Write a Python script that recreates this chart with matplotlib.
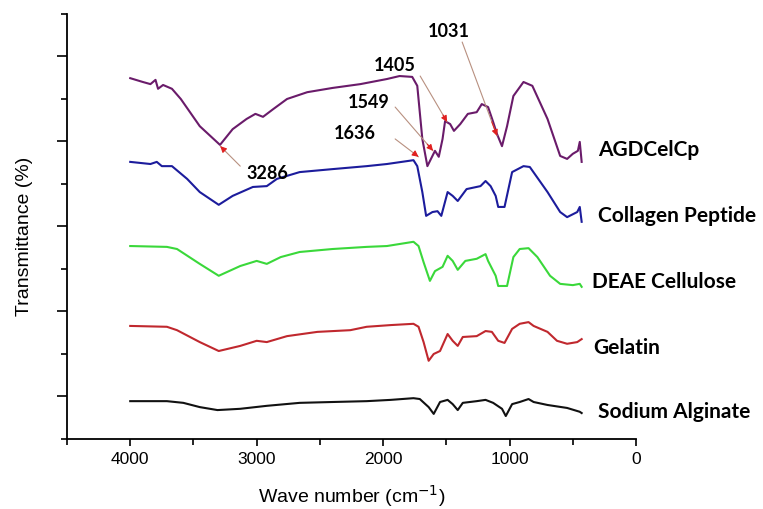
"""FTIR spectra of AGDCelCp and its components."""

import matplotlib
matplotlib.use('Agg')
import matplotlib.pyplot as plt
from matplotlib.ticker import MultipleLocator, NullFormatter

# wave numbers (cm-1) and transmittance (stacked, arbitrary offset) per sample
agd_x = [4000, 3900, 3840, 3800, 3780, 3740, 3670, 3600, 3450, 3290, 3190,
         3080, 3010, 2950, 2870, 2760, 2600, 2400, 2180, 1970, 1870, 1770,
         1730, 1690, 1650, 1610, 1590, 1560, 1530, 1510, 1470, 1440, 1390,
         1330, 1260, 1220, 1170, 1130, 1100, 1060, 1020, 970, 890, 820, 700,
         600, 545, 500, 460, 445, 430]
agd_y = [84.9, 84.0, 83.5, 84.5, 82.4, 83.3, 82.4, 80.0, 73.6, 69.2, 72.9,
         75.3, 76.5, 75.8, 77.6, 80.0, 81.6, 82.6, 83.5, 84.7, 85.4, 85.2,
         83.1, 70.6, 64.2, 66.6, 67.8, 66.4, 70.6, 74.8, 74.1, 72.5, 74.1,
         76.5, 76.9, 78.8, 78.1, 74.6, 71.8, 68.9, 73.6, 80.7, 84.0, 83.1,
         75.3, 66.6, 65.9, 67.1, 67.8, 69.9, 65.2]

col_x = [4000, 3840, 3790, 3750, 3670, 3550, 3450, 3300, 3190, 3030, 2920,
         2840, 2660, 2400, 2130, 1970, 1760, 1730, 1690, 1660, 1610, 1570,
         1540, 1490, 1450, 1410, 1340, 1230, 1190, 1150, 1110, 1090, 1040,
         980, 890, 840, 700, 600, 545, 465, 445, 430]
col_y = [65.2, 64.7, 65.2, 64.2, 64.2, 61.2, 58.1, 55.1, 57.2, 59.3, 59.5,
         61.2, 62.8, 63.5, 64.2, 64.7, 65.6, 64.2, 58.1, 52.5, 53.4, 53.6,
         52.5, 58.1, 57.2, 56.0, 58.8, 59.5, 60.7, 59.5, 57.2, 54.6, 54.6,
         62.8, 64.2, 64.0, 58.1, 53.4, 52.2, 53.4, 54.6, 51.1]

deae_x = [4000, 3710, 3630, 3450, 3300, 3130, 3000, 2920, 2810, 2660, 2400,
          2130, 1970, 1760, 1720, 1680, 1630, 1590, 1530, 1490, 1450, 1410,
          1350, 1260, 1190, 1170, 1110, 1090, 1020, 970, 920, 850, 780, 680,
          600, 500, 445, 430]
deae_y = [45.4, 45.2, 44.7, 41.2, 38.4, 40.7, 41.9, 41.2, 42.8, 44.0, 44.7,
          45.2, 45.4, 46.4, 45.4, 41.6, 37.2, 39.5, 40.5, 43.1, 41.9, 39.8,
          41.9, 42.4, 43.5, 41.9, 38.4, 36.0, 36.0, 42.8, 44.7, 44.9, 42.8,
          38.4, 36.5, 36.2, 36.5, 35.8]

gel_x = [4000, 3710, 3630, 3450, 3300, 3130, 3000, 2920, 2760, 2520, 2260,
         2130, 1940, 1760, 1720, 1680, 1640, 1600, 1550, 1490, 1450, 1410,
         1370, 1260, 1190, 1140, 1090, 1040, 980, 920, 850, 810, 700, 625,
         545, 465, 430]
gel_y = [26.6, 26.4, 25.6, 22.8, 20.7, 21.9, 23.1, 22.8, 24.2, 25.2, 25.6,
         26.4, 26.8, 27.1, 26.4, 22.8, 18.4, 20.0, 20.7, 24.7, 23.1, 21.9,
         24.0, 24.2, 25.4, 25.2, 23.1, 22.6, 25.9, 27.1, 27.5, 26.6, 25.2,
         23.1, 22.4, 22.8, 23.5]

alg_x = [4000, 3710, 3580, 3450, 3310, 3130, 2920, 2660, 2400, 2130, 1940,
         1760, 1710, 1640, 1600, 1550, 1490, 1450, 1410, 1370, 1260, 1190,
         1130, 1060, 1030, 980, 920, 850, 810, 700, 545, 445, 430]
alg_y = [8.9, 8.9, 8.5, 7.5, 6.8, 7.1, 7.8, 8.5, 8.7, 8.9, 9.2, 9.6, 9.4,
         7.5, 5.9, 8.7, 9.2, 8.2, 6.8, 8.5, 8.9, 9.2, 8.5, 7.1, 5.4, 8.2,
         8.7, 9.4, 8.7, 8.0, 7.3, 6.4, 6.1]

names = ['AGDCelCp', 'Collagen Peptide', 'DEAE Cellulose', 'Gelatin',
         'Sodium Alginate']
colors = ['#6a1b6a', '#1c1c9c', '#3ad83a', '#c0282e', '#111111']
name_x = [300, 300, 348, 340, 300]
name_y = [68.2, 52.7, 37.2, 21.6, 6.6]

# peak labels: text, arrow tip, arrow tail, label centre
peaks = ['3286', '1636', '1549', '1405', '1031']
tip_x = [3288, 1720, 1605, 1494, 1099]
tip_y = [68.9, 66.4, 67.8, 74.6, 71.3]
tail_x = [3130, 1905, 1905, 1707, 1375]
tail_y = [64.2, 70.6, 78.1, 85.4, 93.4]
lab_x = [2917, 2221, 2111, 1905, 1478]
lab_y = [62.8, 72.2, 79.5, 88.2, 96.0]


def main():
    """Draw the chart."""
    plt.rcParams['font.family'] = ['Liberation Sans', 'DejaVu Sans']
    fig = plt.figure(figsize=(7.63, 5.10), dpi=100)
    ax = fig.add_axes([0.0878, 0.1373, 0.7458, 0.8333])

    series = [(agd_x, agd_y), (col_x, col_y), (deae_x, deae_y),
              (gel_x, gel_y), (alg_x, alg_y)]
    for (xs, ys), c in zip(series, colors):
        ax.plot(xs, ys, color=c, lw=1.5)

    for n, x, y in zip(names, name_x, name_y):
        ax.text(x, y, n, fontsize=15, fontweight='bold', family='Lato',
                ha='left', va='center', clip_on=False)

    for i in range(len(peaks)):
        ax.annotate('', xy=(tip_x[i], tip_y[i]), xytext=(tail_x[i], tail_y[i]),
                    arrowprops=dict(arrowstyle='-', color='#b89080', lw=0.8,
                                    shrinkA=0, shrinkB=0))
        bx = tip_x[i] + 0.15 * (tail_x[i] - tip_x[i])
        by = tip_y[i] + 0.15 * (tail_y[i] - tip_y[i])
        ax.annotate('', xy=(tip_x[i], tip_y[i]), xytext=(bx, by),
                    arrowprops=dict(arrowstyle='-|>', color='#e02020', lw=0.8,
                                    mutation_scale=9, shrinkA=0, shrinkB=0))
        ax.text(lab_x[i], lab_y[i], peaks[i], fontsize=13, fontweight='bold',
                family='Lato', ha='center', va='center')

    ax.set_xlim(4500, 0)
    ax.set_ylim(0, 100)
    ax.xaxis.set_major_locator(MultipleLocator(1000))
    ax.xaxis.set_minor_locator(MultipleLocator(500))
    ax.yaxis.set_major_locator(MultipleLocator(20, offset=10))
    ax.yaxis.set_minor_locator(MultipleLocator(10))
    ax.yaxis.set_major_formatter(NullFormatter())
    ax.spines['top'].set_visible(False)
    ax.spines['right'].set_visible(False)
    for s in ['left', 'bottom']:
        ax.spines[s].set_linewidth(1.3)
    ax.tick_params(which='major', direction='out', length=7, width=1.2,
                   labelsize=12.5)
    ax.tick_params(which='minor', direction='out', length=4, width=1.2)
    ax.tick_params(axis='x', which='major', length=5)
    ax.set_xlabel('Wave number (cm$^{-1}$)', fontsize=14, labelpad=12)
    ax.set_ylabel('Transmittance (%)', fontsize=14)
    ax.yaxis.set_label_coords(-0.06, 0.48)

    fig.savefig('out.png', dpi=100)


if __name__ == '__main__':
    main()
